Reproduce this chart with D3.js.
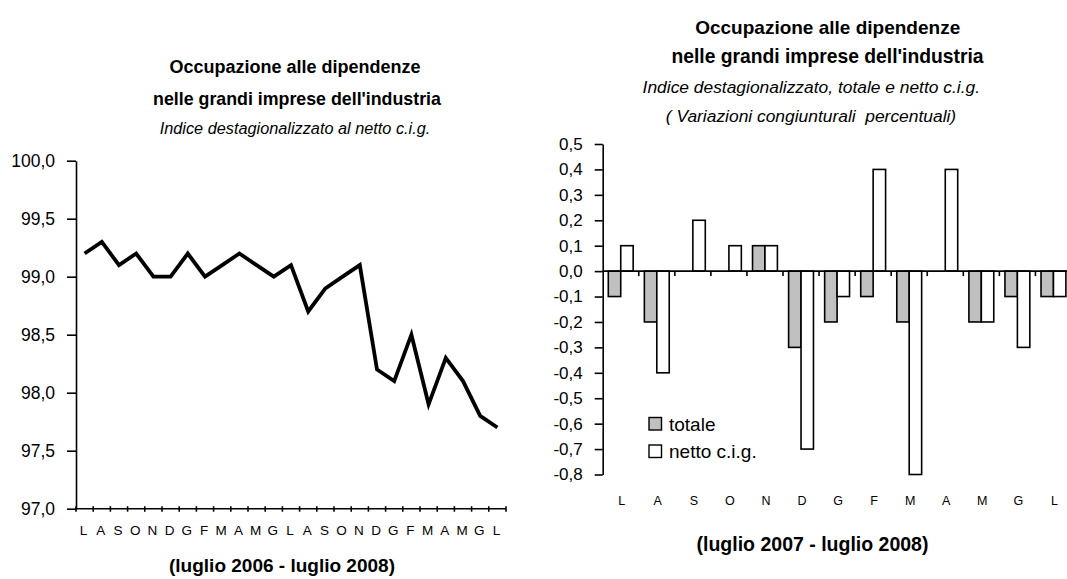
<!DOCTYPE html>
<html>
<head>
<meta charset="utf-8">
<script src="https://cdn.jsdelivr.net/npm/d3@7"></script>
<style>
    body { margin: 0; background: #fff; }
    svg { display: block; font-family: "Liberation Sans", Arial, sans-serif; }
    .axis path, .axis line { stroke: #000; stroke-width: 1.6; }
    .axis text { fill: #000; }
    .title { font-weight: bold; text-anchor: middle; }
    .subtitle { font-style: italic; text-anchor: middle; }
</style>
</head>
<body>
<script>
//left chart: monthly index (luglio 2006 - luglio 2008)
var leftMonths = ["L","A","S","O","N","D","G","F","M","A","M","G","L","A","S","O","N","D","G","F","M","A","M","G","L"];
var leftValues = [99.2, 99.3, 99.1, 99.2, 99.0, 99.0, 99.2, 99.0, 99.1, 99.2, 99.1, 99.0, 99.1,
                  98.7, 98.9, 99.0, 99.1, 98.2, 98.1, 98.5, 97.9, 98.3, 98.1, 97.8, 97.7];
var leftTicks = [97.0, 97.5, 98.0, 98.5, 99.0, 99.5, 100.0];

//right chart: percent changes (luglio 2007 - luglio 2008)
var rightMonths = ["L","A","S","O","N","D","G","F","M","A","M","G","L"];
var totale = [-0.1, -0.2, 0.0, 0.0, 0.1, -0.3, -0.2, -0.1, -0.2, 0.0, -0.2, -0.1, -0.1];
var netto  = [0.1, -0.4, 0.2, 0.1, 0.1, -0.7, -0.1, 0.4, -0.8, 0.4, -0.2, -0.3, -0.1];
var seriesNames = ["totale", "netto c.i.g."];
var seriesColors = ["#c0c0c0", "#ffffff"];
var rightTicks = [-0.8, -0.7, -0.6, -0.5, -0.4, -0.3, -0.2, -0.1, 0.0, 0.1, 0.2, 0.3, 0.4, 0.5];

var fmt = function(d){ return d3.format(".1f")(d).replace(".", ",").replace("−", "-"); };

var svg = d3.select("body")
    .append("svg")
    .attr("width", 1067)
    .attr("height", 579);

setLeftChart();
setRightChart();

function setLeftChart(){
    var left = 76, right = 506, top = 160.7, bottom = 508.7;

    var x = d3.scaleBand()
        .domain(d3.range(leftMonths.length))
        .range([left, right]);

    var y = d3.scaleLinear()
        .domain([97, 100])
        .range([bottom, top]);

    //titles
    svg.append("text").attr("class", "title")
        .attr("x", 295).attr("y", 72.7).style("font-size", "18px")
        .text("Occupazione alle dipendenze");
    svg.append("text").attr("class", "title")
        .attr("x", 297).attr("y", 105).style("font-size", "17.8px")
        .text("nelle grandi imprese dell'industria");
    svg.append("text").attr("class", "subtitle")
        .attr("x", 295).attr("y", 134.3).style("font-size", "16.3px")
        .text("Indice destagionalizzato al netto c.i.g.");

    //y axis
    var yAxis = svg.append("g")
        .attr("class", "axis")
        .attr("transform", "translate(" + left + ",0)")
        .call(d3.axisLeft(y).tickValues(leftTicks).tickFormat(fmt).tickSize(9).tickPadding(12).tickSizeOuter(0));
    yAxis.selectAll("text").style("font-size", "17.5px");

    //x axis: line with ticks crossing it
    var xg = svg.append("g").attr("class", "axis");
    xg.append("line")
        .attr("x1", left).attr("x2", right)
        .attr("y1", bottom).attr("y2", bottom);
    xg.selectAll(".xtick")
        .data(d3.range(leftMonths.length + 1))
        .enter()
        .append("line")
        .attr("x1", function(d){ return left + d * x.step(); })
        .attr("x2", function(d){ return left + d * x.step(); })
        .attr("y1", bottom - 2.5)
        .attr("y2", bottom + 3);
    xg.selectAll(".xlab")
        .data(leftMonths)
        .enter()
        .append("text")
        .attr("x", function(d, i){ return x(i) + x.bandwidth() / 2 - 1; })
        .attr("y", bottom + 26)
        .attr("text-anchor", "middle")
        .style("font-size", "13.5px")
        .text(function(d){ return d; });

    //line
    var line = d3.line()
        .x(function(d, i){ return x(i) + x.bandwidth() / 2; })
        .y(function(d){ return y(d); });
    svg.append("path")
        .datum(leftValues)
        .attr("fill", "none")
        .attr("stroke", "#000")
        .attr("stroke-width", 3.8)
        .attr("stroke-linejoin", "miter")
        .attr("d", line);

    svg.append("text").attr("class", "title")
        .attr("x", 282).attr("y", 572).style("font-size", "19px")
        .text("(luglio 2006 - luglio 2008)");
}

function setRightChart(){
    var left = 602.7, top = 144, bottom = 474.5;
    var step = 36.06;

    var x0 = d3.scaleBand()
        .domain(d3.range(rightMonths.length))
        .range([left, left + step * rightMonths.length]);

    var x1 = d3.scaleBand()
        .domain(d3.range(seriesNames.length))
        .range([0, x0.bandwidth()])
        .paddingOuter(0.45);

    var y = d3.scaleLinear()
        .domain([-0.8, 0.5])
        .range([bottom, top]);

    //titles
    svg.append("text").attr("class", "title")
        .attr("x", 827.7).attr("y", 34.3).style("font-size", "19px")
        .text("Occupazione alle dipendenze");
    svg.append("text").attr("class", "title")
        .attr("x", 827.5).attr("y", 63.3).style("font-size", "19.3px")
        .text("nelle grandi imprese dell'industria");
    svg.append("text").attr("class", "subtitle")
        .attr("x", 811.3).attr("y", 92.7).style("font-size", "17.4px")
        .text("Indice destagionalizzato, totale e netto c.i.g.");
    svg.append("text").attr("class", "subtitle")
        .attr("x", 811).attr("y", 121.7).style("font-size", "17.4px")
        .attr("xml:space", "preserve")
        .text("( Variazioni congiunturali  percentuali)");

    //bars (zero values are skipped)
    var barData = [];
    rightMonths.forEach(function(m, i){
        [totale[i], netto[i]].forEach(function(v, j){
            if (v !== 0) barData.push({month: i, series: j, value: v});
        });
    });
    svg.selectAll(".bar")
        .data(barData)
        .enter()
        .append("rect")
        .attr("class", "bar")
        .attr("x", function(d){ return x0(d.month) + x1(d.series); })
        .attr("width", x1.bandwidth())
        .attr("y", function(d){ return y(Math.max(0, d.value)); })
        .attr("height", function(d){ return Math.abs(y(d.value) - y(0)); })
        .attr("fill", function(d){ return seriesColors[d.series]; })
        .attr("stroke", "#000")
        .attr("stroke-width", 1.6);

    //zero line with small ticks
    var xg = svg.append("g").attr("class", "axis");
    xg.append("line")
        .attr("x1", left).attr("x2", 1067)
        .attr("y1", y(0)).attr("y2", y(0));
    xg.selectAll(".xtick")
        .data(d3.range(1, rightMonths.length + 1))
        .enter()
        .append("line")
        .attr("x1", function(d){ return left + d * step; })
        .attr("x2", function(d){ return left + d * step; })
        .attr("y1", y(0))
        .attr("y2", y(0) + 5);

    //month labels under the plot
    svg.selectAll(".rlab")
        .data(rightMonths)
        .enter()
        .append("text")
        .attr("x", function(d, i){ return x0(i) + x0.bandwidth() / 2 + 1; })
        .attr("y", 505)
        .attr("text-anchor", "middle")
        .style("font-size", "12.5px")
        .text(function(d){ return d; });

    //y axis
    var yAxis = svg.append("g")
        .attr("class", "axis")
        .attr("transform", "translate(" + left + ",0)")
        .call(d3.axisLeft(y).tickValues(rightTicks).tickFormat(fmt).tickSize(8).tickPadding(12).tickSizeOuter(0));
    yAxis.selectAll("text").style("font-size", "17px");

    //legend
    var legend = svg.selectAll(".legend")
        .data(seriesNames)
        .enter()
        .append("g")
        .attr("class", "legend")
        .attr("transform", function(d, i){ return "translate(649," + (417.5 + i * 27.5) + ")"; });
    legend.append("rect")
        .attr("width", 12.5)
        .attr("height", 12.5)
        .attr("fill", function(d, i){ return seriesColors[i]; })
        .attr("stroke", "#000")
        .attr("stroke-width", 1.4);
    legend.append("text")
        .attr("x", 20)
        .attr("y", 13)
        .style("font-size", "19px")
        .text(function(d){ return d; });

    svg.append("text").attr("class", "title")
        .attr("x", 812.5).attr("y", 551).style("font-size", "19.5px")
        .text("(luglio 2007 - luglio 2008)");
}
</script>
</body>
</html>
